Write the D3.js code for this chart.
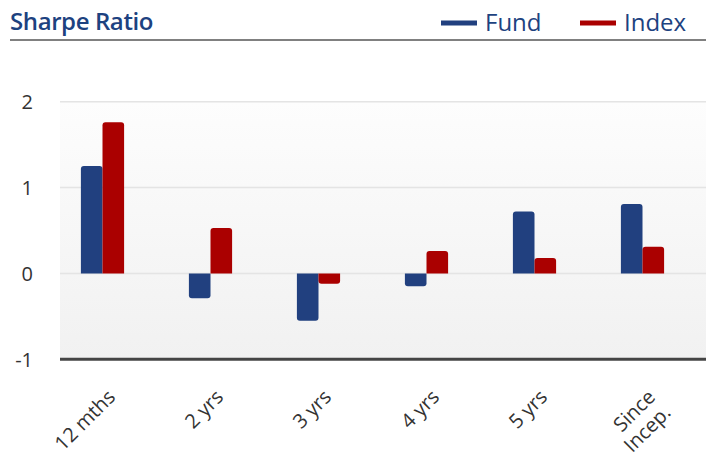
<!DOCTYPE html>
<html>
<head>
<meta charset="utf-8">
<script src="https://cdn.jsdelivr.net/npm/d3@7"></script>
<style>
  html, body { margin: 0; padding: 0; background: #fff; }
  svg { display: block; font-family: "Open Sans", sans-serif; }
  svg text { font-family: "Open Sans", sans-serif; }
</style>
</head>
<body>
<svg id="chart" width="706" height="455"></svg>
<script>
const categories = ["12 mths", "2 yrs", "3 yrs", "4 yrs", "5 yrs", "Since Incep."];
const fundValues = [1.25, -0.29, -0.55, -0.15, 0.72, 0.81];
const indexValues = [1.76, 0.53, -0.12, 0.26, 0.18, 0.31];
const yTicks = [-1, 0, 1, 2];
const seriesNames = ["Fund", "Index"];
const seriesColors = ["#21407f", "#aa0000"];

const svg = d3.select("#chart");
const plotLeft = 60, plotRight = 706, plotTop = 101.7, plotBottom = 359.3;

const x = d3.scaleBand().domain(categories).range([48.5, 696.5]).paddingInner(0.6).paddingOuter(0.3);
const xs = d3.scaleBand().domain(seriesNames).range([0, x.bandwidth()]);
const y = d3.scaleLinear().domain([-1, 2]).range([plotBottom, plotTop]);

// background gradient
const defs = svg.append("defs");
const grad = defs.append("linearGradient").attr("id", "bg").attr("x1", 0).attr("y1", 0).attr("x2", 0).attr("y2", 1);
grad.append("stop").attr("offset", "0%").attr("stop-color", "#fdfdfd");
grad.append("stop").attr("offset", "100%").attr("stop-color", "#f1f1f1");
svg.append("rect").attr("x", plotLeft).attr("y", plotTop).attr("width", plotRight - plotLeft)
  .attr("height", plotBottom - plotTop).attr("fill", "url(#bg)");

// title
svg.append("text").attr("x", 10).attr("y", 30).text("Sharpe Ratio")
  .attr("font-size", 24).attr("font-weight", 600).attr("fill", "#1d4280").attr("letter-spacing", "-0.4");
svg.append("line").attr("x1", 10).attr("x2", 706).attr("y1", 40).attr("y2", 40)
  .attr("stroke", "#808080").attr("stroke-width", 2);

// legend
const legendPos = [{lx: 441, tx: 485}, {lx: 580, tx: 624}];
seriesNames.forEach((s, i) => {
  svg.append("line").attr("x1", legendPos[i].lx).attr("x2", legendPos[i].lx + 36)
    .attr("y1", 23).attr("y2", 23).attr("stroke", seriesColors[i]).attr("stroke-width", 5);
  svg.append("text").attr("x", legendPos[i].tx).attr("y", 31).text(s)
    .attr("font-size", 24).attr("fill", "#1d4280");
});

// gridlines
const yAxis = d3.axisLeft(y).tickValues(yTicks).tickSize(0).tickFormat(d => String(d));
svg.append("g").selectAll("line").data(yTicks.filter(d => d !== -1)).join("line")
  .attr("x1", plotLeft).attr("x2", plotRight).attr("y1", d => y(d)).attr("y2", d => y(d))
  .attr("stroke", "#e4e4e4").attr("stroke-width", 1.5);

const gy = svg.append("g").attr("transform", "translate(33,0)").call(yAxis).attr("font-family", null);
gy.select(".domain").remove();
gy.selectAll("text").attr("font-size", 20).attr("fill", "#333").attr("x", 0).attr("dy", "0.35em");

// bars
function barPath(x0, w, v) {
  const y0 = y(0), y1 = y(v), r = 3;
  if (v >= 0) {
    return `M${x0},${y0}V${y1 + r}Q${x0},${y1} ${x0 + r},${y1}H${x0 + w - r}Q${x0 + w},${y1} ${x0 + w},${y1 + r}V${y0}Z`;
  } else {
    return `M${x0},${y0}V${y1 - r}Q${x0},${y1} ${x0 + r},${y1}H${x0 + w - r}Q${x0 + w},${y1} ${x0 + w},${y1 - r}V${y0}Z`;
  }
}
const rows = categories.map((c, i) => ({c, vals: [fundValues[i], indexValues[i]]}));
const groups = svg.append("g").selectAll("g").data(rows).join("g")
  .attr("transform", d => `translate(${x(d.c)},0)`);
groups.selectAll("path").data(d => d.vals.map((v, i) => ({v, s: seriesNames[i], i}))).join("path")
  .attr("d", d => barPath(xs(d.s), xs.bandwidth(), d.v))
  .attr("fill", d => seriesColors[d.i]);

// x axis line
svg.append("line").attr("x1", plotLeft).attr("x2", plotRight).attr("y1", plotBottom).attr("y2", plotBottom)
  .attr("stroke", "#444").attr("stroke-width", 3);

// x labels
const xAxis = d3.axisBottom(x).tickSize(0).tickFormat(() => "");
const gx = svg.append("g").attr("transform", `translate(0,${plotBottom})`).call(xAxis).attr("font-family", null);
gx.select(".domain").remove();
gx.selectAll(".tick").each(function(d) {
  d3.select(this).select("text").remove();
  const lines = d === "Since Incep." ? ["Since", "Incep."] : [d];
  const txt = d3.select(this).append("text")
    .attr("transform", "translate(14,39) rotate(-45)")
    .attr("text-anchor", "end").attr("font-size", 20).attr("fill", "#333");
  lines.forEach((l, k) => {
    txt.append("tspan").attr("x", 0).attr("dy", k === 0 ? 0 : "1.1em").text(l);
  });
});
</script>
</body>
</html>
